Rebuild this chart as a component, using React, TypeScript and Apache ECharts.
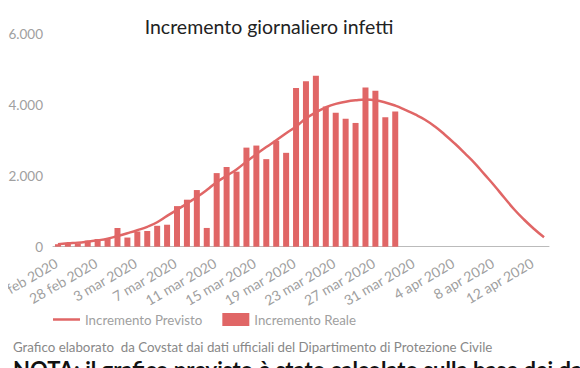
import React, { useEffect, useRef } from "react";
import * as echarts from "echarts";

const categories: string[] = [
  "24 feb 2020", "25 feb 2020", "26 feb 2020", "27 feb 2020", "28 feb 2020", "29 feb 2020",
  "1 mar 2020", "2 mar 2020", "3 mar 2020", "4 mar 2020", "5 mar 2020", "6 mar 2020",
  "7 mar 2020", "8 mar 2020", "9 mar 2020", "10 mar 2020", "11 mar 2020", "12 mar 2020",
  "13 mar 2020", "14 mar 2020", "15 mar 2020", "16 mar 2020", "17 mar 2020", "18 mar 2020",
  "19 mar 2020", "20 mar 2020", "21 mar 2020", "22 mar 2020", "23 mar 2020", "24 mar 2020",
  "25 mar 2020", "26 mar 2020", "27 mar 2020", "28 mar 2020", "29 mar 2020", "30 mar 2020",
  "31 mar 2020", "1 apr 2020", "2 apr 2020", "3 apr 2020", "4 apr 2020", "5 apr 2020",
  "6 apr 2020", "7 apr 2020", "8 apr 2020", "9 apr 2020", "10 apr 2020", "11 apr 2020",
  "12 apr 2020", "13 apr 2020",
];

// Incremento Reale (bars), 24 feb – 29 mar
const realeValues: number[] = [
  70, 80, 95, 170, 215, 228, 528, 258, 428, 443, 590, 620,
  1145, 1326, 1598, 529, 2076, 2249, 2116, 2795, 2853, 2470, 2989, 2648,
  4480, 4670, 4821, 3957, 3780, 3612, 3491, 4492, 4401, 3651, 3815,
];

// Incremento Previsto (curve), 24 feb – 13 apr
const previstoValues: number[] = [
  70, 95, 115, 145, 180, 225, 300, 380, 465, 560, 690, 870,
  1040, 1220, 1400, 1600, 1820, 2000, 2180, 2400, 2610, 2810, 3000, 3200,
  3390, 3620, 3790, 3930, 4030, 4090, 4130, 4150, 4130, 4070, 3980, 3860,
  3730, 3580, 3390, 3160, 2910, 2640, 2360, 2040, 1720, 1380, 1050, 760,
  500, 265,
];

const yTicks = { min: 0, max: 6000, interval: 2000 };

const TITLE = "Incremento giornaliero infetti";
const SOURCE = "Grafico elaborato  da Covstat dai dati ufficiali del Dipartimento di Protezione Civile";
const NOTE = "NOTA: il grafico previsto è stato calcolato sulla base dei dati ufficiali";

const RED = "#e06666";
const GRAY = "#a0a0a0";
const FONT = "Lato, 'Open Sans', sans-serif";

export default function App() {
  const ref = useRef<HTMLDivElement>(null);
  useEffect(() => {
    document.body.style.margin = "0";
    if (!ref.current) return;
    const chart = echarts.init(ref.current, undefined, { renderer: "svg" });
    chart.setOption({
      animation: false,
      textStyle: { fontFamily: FONT },
      title: {
        text: TITLE,
        left: 256,
        top: 11,
        textAlign: "center",
        textStyle: { fontFamily: FONT, fontSize: 19.5, fontWeight: "normal", color: "#222222" },
      },
      grid: {
        left: 45,
        right: 31,
        top: 34,
        bottom: 121.3,
        containLabel: false,
        outerBoundsMode: "none",
      },
      legend: {
        left: 40,
        top: 308,
        itemWidth: 27,
        itemHeight: 13,
        itemGap: 20,
        textStyle: { fontFamily: FONT, fontSize: 13.3, color: GRAY },
        data: [
          { name: "Incremento Previsto", icon: "path://M0,0H27V2.5H0Z" },
          { name: "Incremento Reale", icon: "rect" },
        ],
      },
      xAxis: {
        type: "category",
        data: categories,
        boundaryGap: true,
        axisLine: { show: true, lineStyle: { color: "#bbbbbb", width: 1 } },
        axisTick: { show: false },
        axisLabel: {
          interval: 3,
          rotate: 30,
          margin: 14,
          padding: [0, 2, 0, 0],
          fontFamily: FONT,
          fontSize: 14,
          color: GRAY,
        },
        splitLine: { show: false },
      },
      yAxis: {
        type: "value",
        min: yTicks.min,
        max: yTicks.max,
        interval: yTicks.interval,
        axisLine: { show: false },
        axisTick: { show: false },
        splitLine: { show: false },
        axisLabel: {
          margin: 10,
          fontFamily: FONT,
          fontSize: 13.5,
          color: GRAY,
          formatter: (v: number) => v.toLocaleString("de-DE"),
        },
      },
      series: [
        {
          name: "Incremento Previsto",
          type: "line",
          data: previstoValues,
          smooth: true,
          showSymbol: false,
          symbol: "none",
          lineStyle: { color: RED, width: 2.5 },
          itemStyle: { color: RED },
          z: 3,
        },
        {
          name: "Incremento Reale",
          type: "bar",
          data: realeValues,
          barWidth: 6,
          itemStyle: { color: RED },
          z: 2,
        },
      ],
      graphic: [
        {
          type: "text",
          left: 5,
          top: 340,
          style: { text: SOURCE, fontFamily: FONT, fontSize: 13.3, fill: "#888888" },
        },
        {
          type: "text",
          left: 5,
          top: 358,
          style: { text: NOTE, fontFamily: FONT, fontSize: 22, fontWeight: "bold", fill: "#111111" },
        },
      ],
    });
    return () => chart.dispose();
  }, []);
  return (
    <div style={{ width: 580, height: 368, position: "relative", overflow: "hidden" }}>
      <div ref={ref} style={{ position: "absolute", left: 8, top: 0, width: 572, height: 368 }} />
    </div>
  );
}
